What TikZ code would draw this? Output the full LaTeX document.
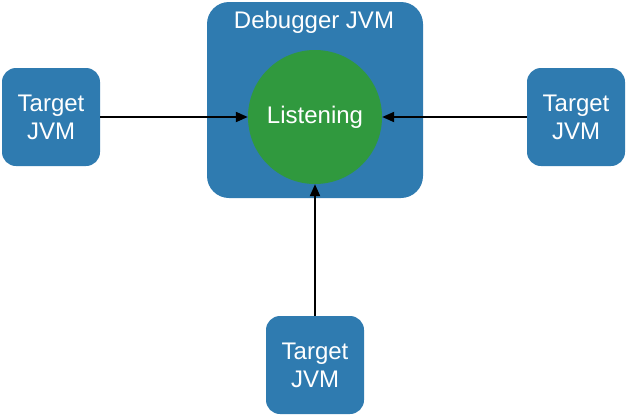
\documentclass[tikz,border=0pt]{standalone}
\usepackage{fontspec}
\setmainfont{Liberation Sans}
\usetikzlibrary{arrows.meta}
\definecolor{jvmblue}{RGB}{47,123,176}
\definecolor{listengreen}{RGB}{48,153,62}
\tikzset{
  jvmbox/.style={rectangle, rounded corners=14pt, fill=jvmblue, text=white, align=center,
    minimum width=98pt, minimum height=98pt, inner sep=0pt,
    font=\fontsize{24}{28}\selectfont},
  link/.style={line width=2pt, -{Triangle[length=12pt,width=10pt]}}
}
\begin{document}
\begin{tikzpicture}[x=1pt, y=-1pt]
    \useasboundingbox (0,0) rectangle (628,415);

    \node[rectangle, rounded corners=22pt, fill=jvmblue, minimum width=216pt, minimum height=196pt] (D) at (315,100) {};
    \node[text=white, font=\fontsize{24}{28}\selectfont] (DL) at (314,22) {Debugger JVM};
    \node[circle, fill=listengreen, minimum size=134pt, inner sep=0pt, text=white, font=\fontsize{24}{28}\selectfont] (L) at (315,117) {\raisebox{-3pt}{Listening}};

    \node[jvmbox] (A) at (51,117) {Target\\JVM};
    \node[jvmbox] (B) at (576,117) {Target\\JVM};
    \node[jvmbox] (C) at (315,365) {Target\\JVM};

    % 矢印
    \draw[link] (A) -- (L);
    \draw[link] (B) -- (L);
    \draw[link] (C) -- (L);

  \end{tikzpicture}
\end{document}
